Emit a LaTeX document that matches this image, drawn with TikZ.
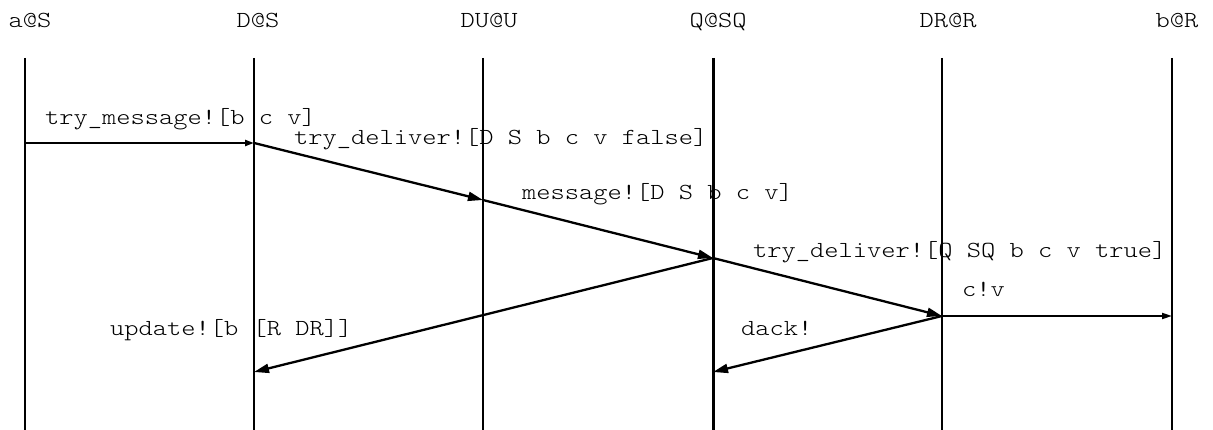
\documentclass[tikz,border=0pt]{standalone}
\usepackage{fontspec}
\setmonofont{Latin Modern Mono Light}[FakeStretch=1.18]
\usetikzlibrary{arrows.meta}
\tikzset{
  lifeline/.style={line width=2.2pt},
  heavyline/.style={line width=3pt},
  hdr/.style={font=\ttfamily\fontsize{23}{28}\selectfont, anchor=base, inner sep=0pt},
  lbl/.style={font=\ttfamily\fontsize{23}{28}\selectfont, anchor=base west, inner sep=0pt},
  msg/.style={line width=2.3pt, -{Triangle[length=15pt,width=9pt]}},
  hmsg/.style={line width=2.6pt, -{Triangle[length=9pt,width=6pt]}},
  tmsg/.style={line width=1.8pt, -{Triangle[length=10pt,width=6pt]}},
}
\begin{document}
\begin{tikzpicture}[x=1pt,y=-1pt]
\useasboundingbox (0,0) rectangle (1213,430);
% lifeline ends
\coordinate (Atop) at (25,58);   \coordinate (Abot) at (25,430);
\coordinate (Dtop) at (254,58);  \coordinate (Dbot) at (254,430);
\coordinate (Utop) at (483,58);  \coordinate (Ubot) at (483,430);
\coordinate (Qtop) at (713,58);  \coordinate (Qbot) at (713,430);
\coordinate (Rtop) at (942,58);  \coordinate (Rbot) at (942,430);
\coordinate (Btop) at (1172,58); \coordinate (Bbot) at (1172,430);
% headers
\node[hdr] (hA) at (30,28) {a@S};
\node[hdr] (hD) at (258,28) {D@S};
\node[hdr] (hU) at (489,28) {DU@U};
\node[hdr] (hQ) at (718,28) {Q@SQ};
\node[hdr] (hR) at (948,28) {DR@R};
\node[hdr] (hB) at (1177,28) {b@R};
% lifelines
\draw[lifeline] (Atop) -- (Abot);
\draw[lifeline] (Dtop) -- (Dbot);
\draw[lifeline] (Utop) -- (Ubot);
\draw[heavyline] (Qtop) -- (Qbot);
\draw[lifeline] (Rtop) -- (Rbot);
\draw[lifeline] (Btop) -- (Bbot);
% message points
\coordinate (m1s) at (25,143);
\coordinate (m1e) at (254,143);
\coordinate (m2e) at (483,200);
\coordinate (m3e) at (713,258);
\coordinate (m4e) at (942,316);
\coordinate (m5e) at (1172,316);
\coordinate (m6e) at (254,372);
\coordinate (m7e) at (713,372);
% messages
\draw[hmsg] (m1s) -- (m1e);
\draw[msg] (m1e) -- (m2e);
\draw[msg] (m2e) -- (m3e);
\draw[msg] (m3e) -- (m4e);
\draw[tmsg] (m4e) -- (m5e);
\draw[msg] (m3e) -- (m6e);
\draw[msg] (m4e) -- (m7e);
% labels
\node[lbl] (l1) at (45,125) {try\_message![b c v]};
\node[lbl] (l2) at (294,145) {try\_deliver![D S b c v false]};
\node[lbl] (l3) at (522,200) {message![D S b c v]};
\node[lbl] (l4) at (753,258) {try\_deliver![Q SQ b c v true]};
\node[lbl] (l5) at (962,297) {c!v};
\node[lbl] (l6) at (110,335) {update![b [R DR]]};
\node[lbl] (l7) at (741,335) {dack!};
\end{tikzpicture}
\end{document}
